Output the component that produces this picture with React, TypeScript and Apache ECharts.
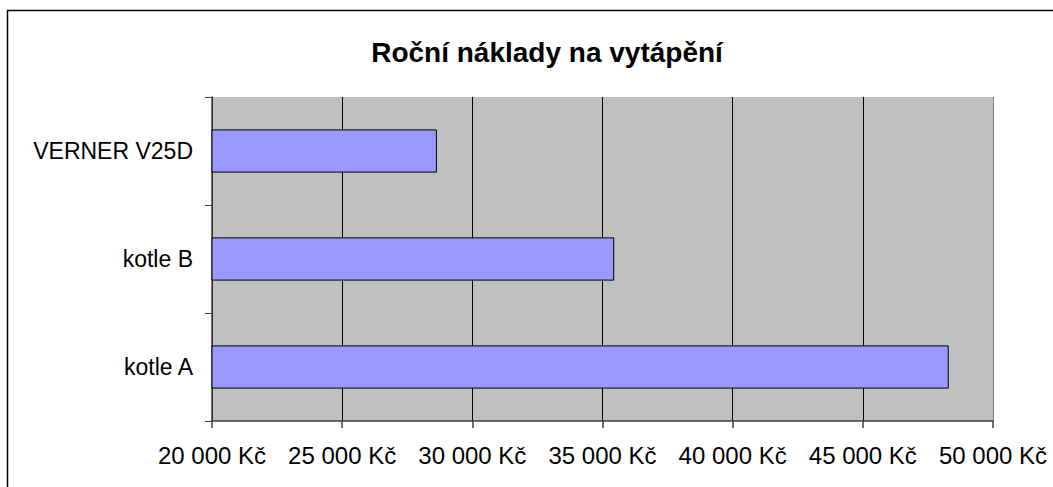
import React, { useEffect, useRef } from "react";
import * as echarts from "echarts";

const categories = ["kotle A", "kotle B", "VERNER V25D"];
const costs = [48300, 35450, 28640];
const titleText = "Roční náklady na vytápění";
const xMin = 20000;
const xMax = 50000;
const xStep = 5000;

const fmt = (v: number) => {
  const s = String(Math.round(v));
  return s.replace(/\B(?=(\d{3})+(?!\d))/g, " ") + " Kč";
};

export default function App() {
  const ref = useRef<HTMLDivElement>(null);
  useEffect(() => {
    if (!ref.current) return;
    const chart = echarts.init(ref.current, undefined, { renderer: "svg" });
    const font = 'Arial, "Liberation Sans", sans-serif';
    chart.setOption({
      animation: false,
      backgroundColor: "#fff",
      title: {
        text: titleText,
        left: 542,
        top: 33,
        textAlign: "center",
        textStyle: { fontFamily: font, fontSize: 28, fontWeight: "bold", color: "#000" },
      },
      graphic: [
        {
          type: "rect",
          shape: { x: 7.5, y: 10.5, width: 1200, height: 700 },
          style: { fill: "none", stroke: "#000", lineWidth: 1.5 },
          silent: true,
        },
      ],
      grid: {
        left: 212,
        right: 60,
        top: 97,
        bottom: 66,
        show: true,
        backgroundColor: "#C0C0C0",
        borderWidth: 0,
      },
      xAxis: {
        type: "value",
        min: xMin,
        max: xMax,
        interval: xStep,
        axisLine: { show: true, lineStyle: { color: "#404040", width: 1.5 } },
        axisTick: { show: true, length: 7, lineStyle: { color: "#404040", width: 1.5 } },
        axisLabel: {
          margin: 22,
          fontFamily: font,
          fontSize: 24,
          color: "#000",
          formatter: (v: number) => fmt(v),
        },
        splitLine: {
          show: true,
          lineStyle: {
            color: ["#000", "#000", "#000", "#000", "#000", "#000", "#808080"],
            width: 1,
          },
        },
      },
      yAxis: {
        type: "category",
        data: categories,
        axisLine: { show: true, lineStyle: { color: "#404040", width: 1.5 } },
        axisTick: { show: true, length: 7, lineStyle: { color: "#404040", width: 1 } },
        axisLabel: { margin: 19, fontFamily: font, fontSize: 23, color: "#000" },
        splitLine: { show: false },
      },
      series: [
        {
          type: "bar",
          data: costs,
          barCategoryGap: "60%",
          itemStyle: { color: "#9999FF", borderColor: "#000", borderWidth: 1 },
        },
      ],
    });
    return () => chart.dispose();
  }, []);
  return (
    <div
      ref={ref}
      style={{ position: "fixed", left: 0, top: 0, width: 1053, height: 487 }}
    />
  );
}
